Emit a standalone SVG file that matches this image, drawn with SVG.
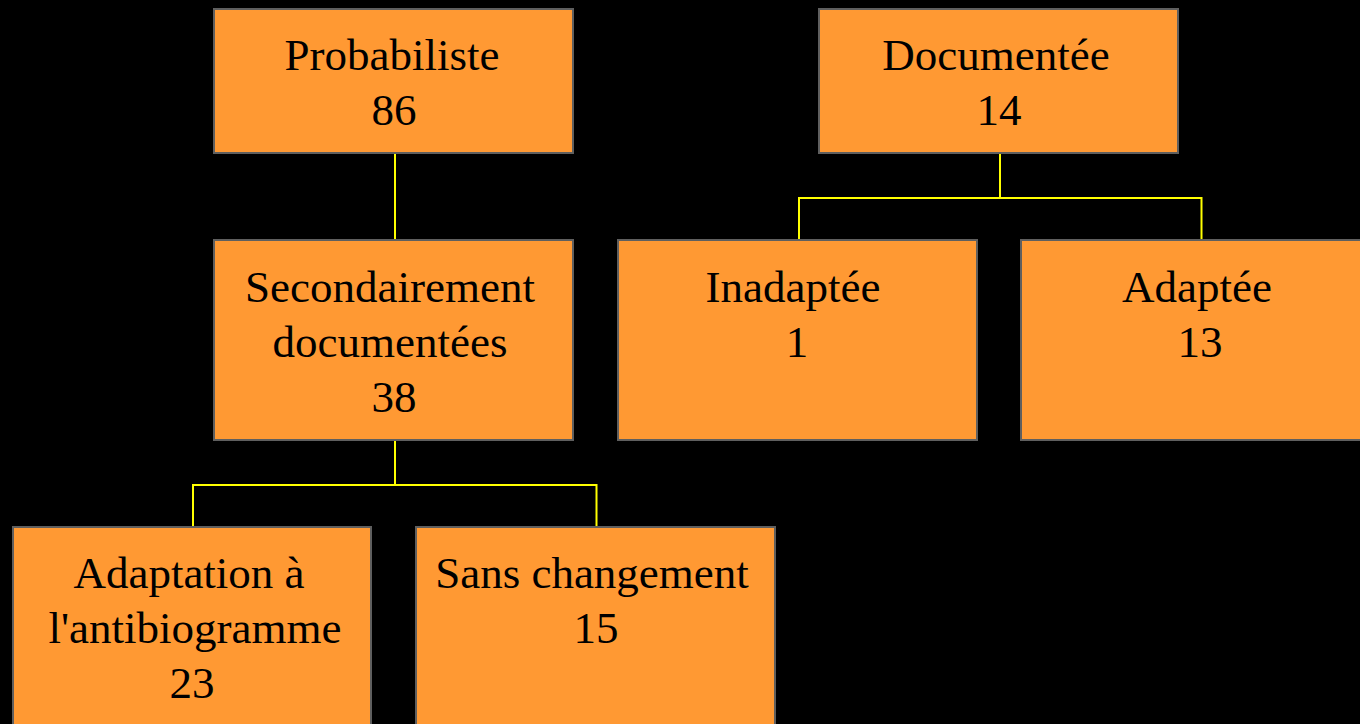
<svg xmlns="http://www.w3.org/2000/svg" width="1360" height="724" viewBox="0 0 1360 724">
<style>
.box{fill:#FF9933;stroke:#5F5F5F;stroke-width:2}
.t{font-family:"Liberation Serif","Times New Roman",serif;font-size:45px;fill:#000;text-anchor:middle}
.c{fill:none;stroke:#FFFF00;stroke-width:2}
</style>
<rect x="0" y="0" width="1360" height="724" fill="#000"/>
<g id="connectors">
<path class="c" d="M395 153V240"/>
<path class="c" d="M1000 153V198H799V240M1000 198H1201.5V240"/>
<path class="c" d="M395 440V485H193V527M395 485H596.5V527"/>
</g>
<g id="n-probabiliste">
<rect class="box" x="214" y="9" width="359" height="144"/>
<text class="t" x="392" y="70">Probabiliste</text>
<text class="t" x="394" y="125">86</text>
</g>
<g id="n-documentee">
<rect class="box" x="819" y="9" width="359" height="144"/>
<text class="t" x="996" y="70">Documentée</text>
<text class="t" x="999" y="125">14</text>
</g>
<g id="n-secondairement">
<rect class="box" x="214" y="240" width="359" height="200"/>
<text class="t" x="390" y="302">Secondairement</text>
<text class="t" x="390" y="357">documentées</text>
<text class="t" x="394" y="412">38</text>
</g>
<g id="n-inadaptee">
<rect class="box" x="618" y="240" width="359" height="200"/>
<text class="t" x="793" y="302">Inadaptée</text>
<text class="t" x="797" y="357">1</text>
</g>
<g id="n-adaptee">
<rect class="box" x="1021" y="240" width="359" height="200"/>
<text class="t" x="1197" y="302">Adaptée</text>
<text class="t" x="1200" y="357">13</text>
</g>
<g id="n-adaptation">
<rect class="box" x="13" y="527" width="358" height="210"/>
<text class="t" x="189" y="588">Adaptation à</text>
<text class="t" x="195" y="643">l'antibiogramme</text>
<text class="t" x="192" y="698">23</text>
</g>
<g id="n-sans">
<rect class="box" x="416" y="527" width="359" height="210"/>
<text class="t" x="592" y="588">Sans changement</text>
<text class="t" x="596" y="643">15</text>
</g>
</svg>
